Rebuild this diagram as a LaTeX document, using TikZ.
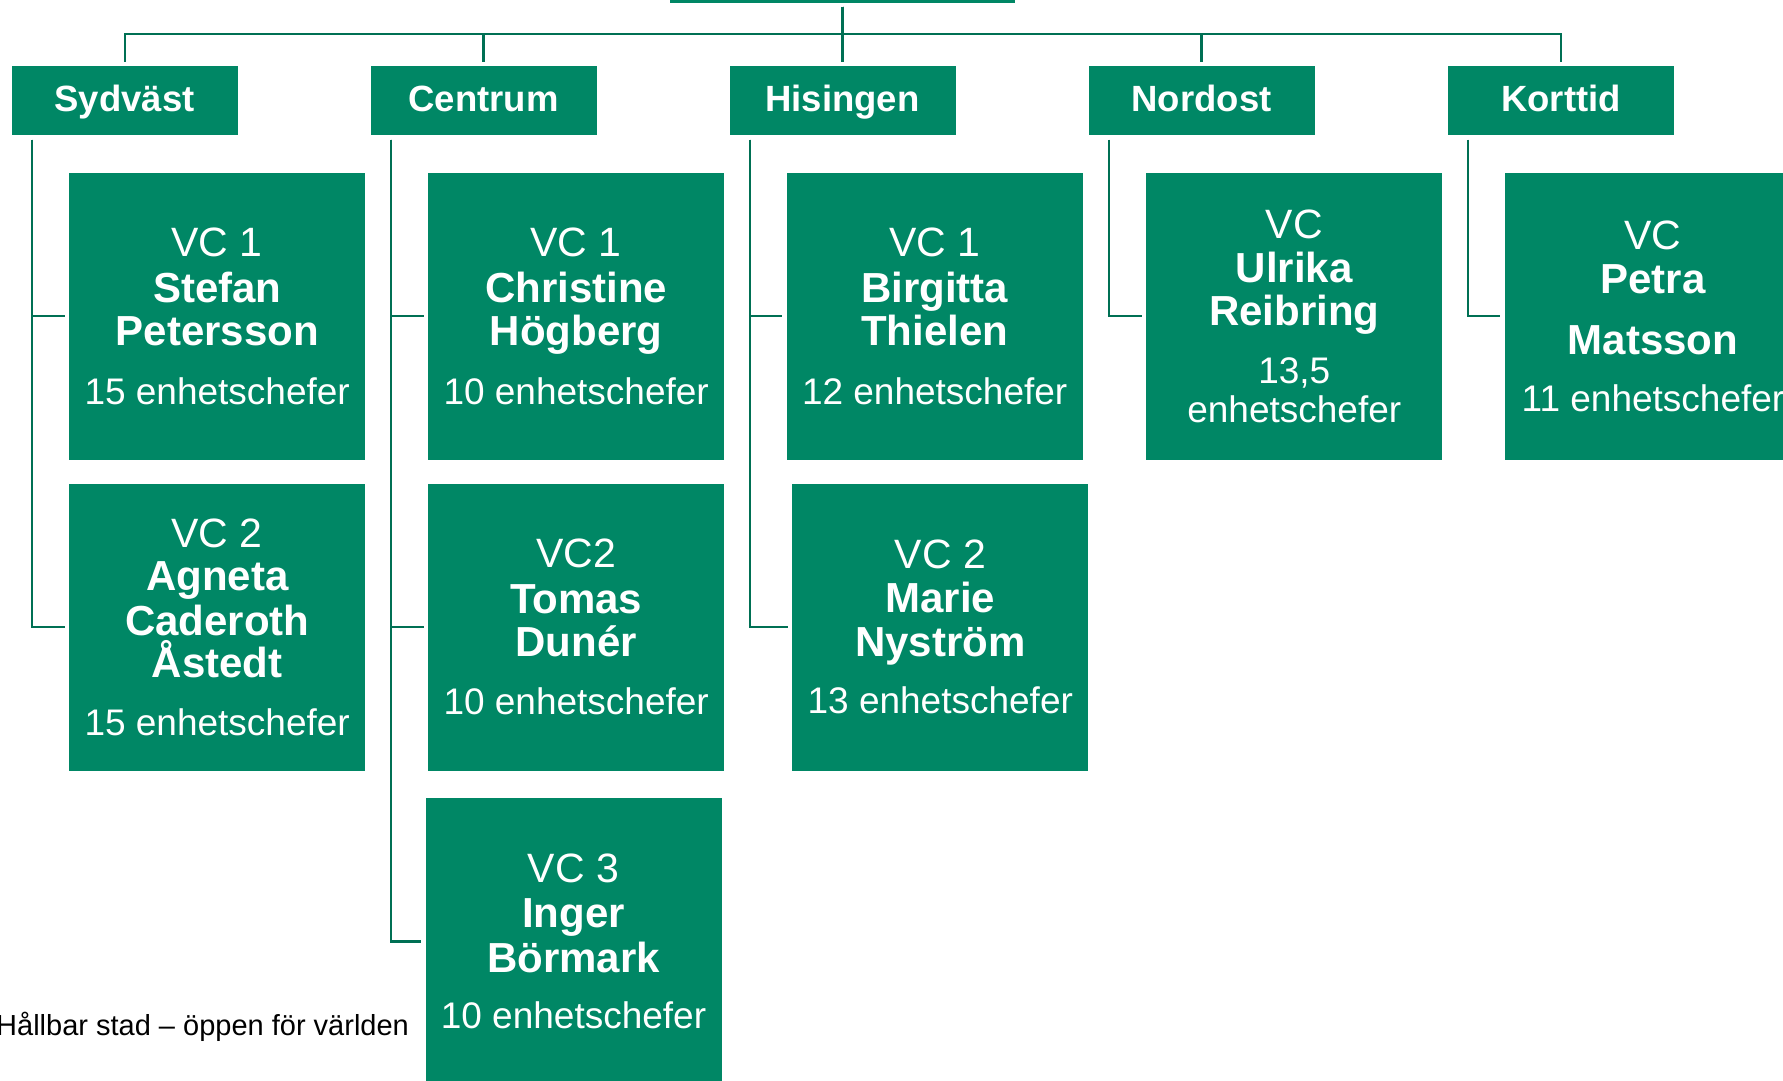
\documentclass[tikz,border=0pt]{standalone}
\usepackage{fontspec}
\setmainfont{Liberation Sans}
\usetikzlibrary{calc}
\definecolor{boxgreen}{RGB}{0,135,101}
\definecolor{linegreen}{RGB}{0,112,84}
\newcommand\vcl[1]{\fontsize{41}{45}\selectfont\mdseries #1\par}
\newcommand\nml[2]{\fontsize{42}{#2}\selectfont\bfseries #1\par}
\newcommand\cnl[2]{\fontsize{37}{#2}\selectfont\mdseries #1\par}
\newcommand\vcstack[1]{\vbox{\hsize=296pt\parindent=0pt\parskip=0pt\leftskip=0pt plus 1fil\rightskip=0pt plus 1fil\parfillskip=0pt #1}}
\begin{document}
\begin{tikzpicture}[x=1pt,y=-1pt,
  hdr/.style={fill=boxgreen, text=white, minimum width=226pt, minimum height=69pt, inner sep=0pt, text height=28.5pt, text depth=6.5pt, font=\fontsize{36.5}{40}\selectfont\bfseries},
  vcbox/.style={fill=boxgreen, text=white, minimum width=296pt, minimum height=287pt, inner sep=0pt},
  conn/.style={draw=linegreen, line width=2.2pt},
  foot/.style={inner sep=0pt, anchor=base west, font=\fontsize{29}{32}\selectfont}]
\useasboundingbox (0,0) rectangle (1783,1080);
% root
\node[fill=boxgreen, minimum width=345pt, minimum height=60pt, inner sep=0pt, anchor=south] (root) at (842.5,2.7) {};
% level 1
\node[hdr] (h1) at (124.6,100.5) {Sydväst};
\node[hdr] (h2) at (483.5,100.5) {Centrum};
\node[hdr] (h3) at (842.5,100.5) {Hisingen};
\node[hdr] (h4) at (1201.5,100.5) {Nordost};
\node[hdr] (h5) at (1561,100.5) {Korttid};
\coordinate (bus) at (842.5,34);
\foreach \h in {h1,h2,h3,h4,h5}
  \draw[conn, shorten <=4pt, shorten >=4.3pt] (root.south) -- (root.south |- bus) -| (\h.north);
% level 2
\node[vcbox] (s1) at (217.2,316.25) {\vcstack{\vcl{VC 1}\nml{Stefan}{45.5}\nml{Petersson}{43.5}\cnl{15 enhetschefer}{58.5}}};
\node[vcbox] (s2) at (217.2,627) {\vcstack{\vcl{VC 2}\nml{Agneta}{43.5}\nml{Caderoth}{44.5}\nml{Åstedt}{42}\cnl{15 enhetschefer}{58}}};
\node[vcbox] (c1) at (576.2,316.25) {\vcstack{\vcl{VC 1}\nml{Christine}{45.5}\nml{Högberg}{43.5}\cnl{10 enhetschefer}{58.5}}};
\node[vcbox] (c2) at (576.2,627) {\vcstack{\vcl{VC2}\nml{Tomas}{45.5}\nml{Dunér}{43.5}\cnl{10 enhetschefer}{57.5}}};
\node[vcbox] (c3) at (573.5,941.5) {\vcstack{\vcl{VC 3}\nml{Inger}{45}\nml{Börmark}{45}\cnl{10 enhetschefer}{56.5}}};
\node[vcbox] (i1) at (934.7,316.25) {\vcstack{\vcl{VC 1}\nml{Birgitta}{45.5}\nml{Thielen}{43.5}\cnl{12 enhetschefer}{58.5}}};
\node[vcbox] (i2) at (940.3,627) {\vcstack{\vcl{VC 2}\nml{Marie}{44}\nml{Nyström}{43.5}\cnl{13 enhetschefer}{57.5}}};
\node[vcbox] (n1) at (1294.3,316.25) {\vcstack{\vcl{VC}\nml{Ulrika}{43.4}\nml{Reibring}{43.3}\cnl{13,5}{57.7}\cnl{enhetschefer}{39}}};
\node[vcbox] (k1) at (1653,316.25) {\vcstack{\vcl{VC}\nml{Petra}{44.4}\nml{Matsson}{60.6}\cnl{11 enhetschefer}{57.4}}};
% level 2 connectors
\foreach \h/\c in {h1/s1,h1/s2,h2/c1,h2/c2,h2/c3,h3/i1,h3/i2,h4/n1,h5/k1}
  \draw[conn, shorten <=4.5pt, shorten >=4.5pt] ($(\h.south west)+(20.5,0)$) |- (\c.west);
% footer
\node[foot] (footer) at (-4,1035) {Hållbar stad – öppen för världen};
\end{tikzpicture}
\end{document}
